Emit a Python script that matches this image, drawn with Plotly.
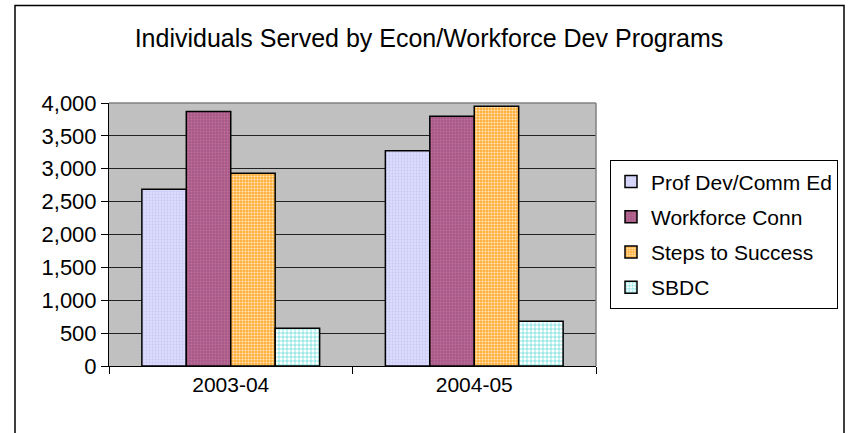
import plotly.graph_objects as go

categories = ["2003-04", "2004-05"]
series_names = ["Prof Dev/Comm Ed", "Workforce Conn", "Steps to Success", "SBDC"]
prof_dev = [2690, 3275]
workforce = [3870, 3800]
steps = [2930, 3950]
sbdc = [575, 680]
y_ticks = [0, 500, 1000, 1500, 2000, 2500, 3000, 3500, 4000]

values = [prof_dev, workforce, steps, sbdc]
styles = [
    dict(bg="#DCDCFF", fg="#C8C8F2", shape=".", size=3, solidity=0.3),
    dict(bg="#A85A88", fg="#C07098", shape=".", size=3, solidity=0.3),
    dict(bg="#FFAE38", fg="#FFE8C0", shape=".", size=3, solidity=0.4),
    dict(bg="#FFFFFF", fg="#33CCCC", shape="+", size=4, solidity=0.25),
]

fig = go.Figure()
for i, (name, vals, st) in enumerate(zip(series_names, values, styles)):
    fig.add_trace(go.Bar(
        x=categories, y=vals, name=name, legendgroup=f"g{i}",
        marker=dict(
            color=st["bg"],
            line=dict(color="#000000", width=1.5),
            pattern=dict(shape=st["shape"], fgcolor=st["fg"], bgcolor=st["bg"],
                         size=st["size"], solidity=st["solidity"], fillmode="replace"),
        ),
    ))

L, R, T, B = 109, 596, 102.7, 366
W, H = 850, 433
pw, ph = R - L, B - T

def px_x(px):
    return (px - L) / pw

def px_y(py):
    return (B - py) / ph

fig.update_layout(
    width=W, height=H,
    margin=dict(l=L, r=W - R, t=T, b=H - B, pad=0),
    paper_bgcolor="white",
    plot_bgcolor="#C0C0C0",
    barmode="group",
    bargap=0.27,
    bargroupgap=0,
    font=dict(family="Liberation Sans, Arial, sans-serif", color="black", size=21),
    title=dict(text="Individuals Served by Econ/Workforce Dev Programs",
               x=429 / W, xref="container", xanchor="center",
               y=1 - 38 / H, yref="container", yanchor="middle",
               font=dict(size=25, color="black")),
    showlegend=True,
    legend=dict(
        x=px_x(610), y=px_y(160), xanchor="left", yanchor="top",
        xref="paper", yref="paper",
        bordercolor="black", borderwidth=1, bgcolor="white",
        font=dict(size=21), tracegroupgap=5, traceorder="grouped",
        itemwidth=30,
    ),
    xaxis=dict(
        type="category",
        showline=True, linecolor="black", linewidth=1,
        ticks="outside", tickson="boundaries", ticklen=7, tickcolor="black",
        showgrid=False, tickfont=dict(size=21),
    ),
    yaxis=dict(
        range=[0, 4000], tickvals=y_ticks, tickformat=",",
        showline=True, linecolor="black", linewidth=1,
        ticks="outside", ticklen=7, tickcolor="black",
        showgrid=True, gridcolor="#222222", gridwidth=1,
        zeroline=False, tickfont=dict(size=22),
    ),
    shapes=[
        dict(type="line", xref="paper", yref="paper", x0=0, x1=1, y0=1, y1=1,
             line=dict(color="#808080", width=1.5), layer="above"),
        dict(type="line", xref="paper", yref="paper", x0=1, x1=1, y0=0, y1=1,
             line=dict(color="#808080", width=1.5), layer="above"),
        dict(type="rect", xref="paper", yref="paper",
             x0=px_x(15), x1=px_x(844), y0=px_y(440), y1=px_y(5),
             line=dict(color="black", width=1.5), fillcolor="rgba(0,0,0,0)", layer="above"),
    ],
)

fig.write_html("out.html")
